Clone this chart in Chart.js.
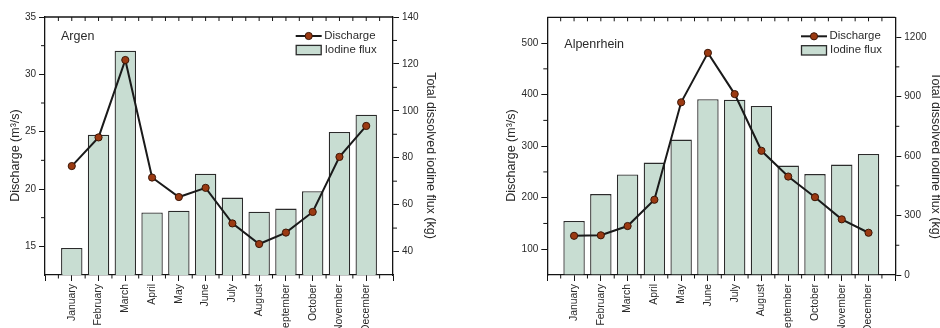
<!DOCTYPE html>
<html>
<head>
<meta charset="utf-8">
<script src="https://cdn.jsdelivr.net/npm/chart.js@4.4.1/dist/chart.umd.min.js"></script>
<style>
  html, body { margin: 0; padding: 0; background: #fff; overflow: hidden; }
  #wrap { display: flex; width: 940px; height: 328px; }
  canvas { display: block; }
</style>
</head>
<body>
<div id="wrap">
  <canvas id="argen" width="470" height="328"></canvas>
  <canvas id="alpen" width="470" height="328"></canvas>
</div>
<script>
// Monthly mean discharge (m³/s) and total dissolved iodine flux (kg)
const months = ['January', 'February', 'March', 'April', 'May', 'June',
                'July', 'August', 'September', 'October', 'November', 'December'];

const argenDischarge = [22.0, 24.5, 31.25, 21.0, 19.3, 20.1, 17.0, 15.2, 16.2, 18.0, 22.8, 25.5];
const argenFlux      = [41.5, 89.8, 125.6, 56.7, 57.4, 73.2, 63.0, 57.0, 58.3, 65.7, 91.0, 98.3];

const alpenDischarge = [126, 127, 145, 196, 385, 481, 401, 291, 241, 201, 158, 132];
const alpenFlux      = [273, 408, 507, 567, 683, 887, 884, 853, 552, 509, 557, 611];

// Axis tick values
const argenDischargeTicks = [15, 20, 25, 30, 35];
const argenDischargeMinor = [17.5, 22.5, 27.5, 32.5];
const argenFluxTicks      = [40, 60, 80, 100, 120, 140];
const argenFluxMinor      = [50, 70, 90, 110, 130];

const alpenDischargeTicks = [100, 200, 300, 400, 500];
const alpenDischargeMinor = [150, 250, 350, 450];
const alpenFluxTicks      = [0, 300, 600, 900, 1200];
const alpenFluxMinor      = [150, 450, 750, 1050];

const FONT = "'Liberation Sans', Arial, Helvetica, sans-serif";
const INK = '#141414';
const TEXT = '#2a2a2a';
const BAR_FILL = '#c8ddd2';
const BAR_EDGE = '#2b2b2b';
const POINT_FILL = '#9b3a12';
const POINT_EDGE = '#3b1606';

Chart.defaults.font.family = FONT;
Chart.defaults.color = TEXT;

// Box frame, minor ticks, legend, panel name and axis titles
const framePlugin = {
  id: 'frame',
  afterDraw(chart, args, o) {
    const { ctx, chartArea: a, scales } = chart;
    const x = scales.x, yl = scales.y, yr = scales.y1;
    ctx.save();

    ctx.strokeStyle = INK;
    ctx.lineWidth = 1.3;
    ctx.beginPath();
    ctx.moveTo(a.left, a.top);
    ctx.lineTo(a.right, a.top);
    ctx.stroke();

    ctx.lineWidth = 1;
    ctx.beginPath();
    const x0 = x.getPixelForValue(0);
    const half = (x.getPixelForValue(1) - x0) / 2;
    const n = (x.getLabels().length - 1) * 2;
    for (let i = 1; i < n; i++) {
      const px = x0 + i * half;
      ctx.moveTo(px, a.top);
      ctx.lineTo(px, a.top + 4);
      if (i % 2) {
        ctx.moveTo(px, a.bottom);
        ctx.lineTo(px, a.bottom + 3.5);
      }
    }
    o.leftMinor.forEach(v => {
      const py = yl.getPixelForValue(v);
      ctx.moveTo(a.left - 4, py);
      ctx.lineTo(a.left, py);
    });
    o.rightMinor.forEach(v => {
      const py = yr.getPixelForValue(v);
      ctx.moveTo(a.right, py);
      ctx.lineTo(a.right + 4, py);
    });
    ctx.stroke();

    // legend
    const lineDs = chart.data.datasets[0];
    const barDs = chart.data.datasets[1];
    const lx = a.right + o.legendDx;
    const ly1 = a.top + 19;
    const ly2 = a.top + 33;
    ctx.strokeStyle = lineDs.borderColor;
    ctx.lineWidth = lineDs.borderWidth;
    ctx.beginPath();
    ctx.moveTo(lx, ly1);
    ctx.lineTo(lx + 26, ly1);
    ctx.stroke();
    ctx.beginPath();
    ctx.arc(lx + 13, ly1, lineDs.pointRadius, 0, Math.PI * 2);
    ctx.fillStyle = lineDs.pointBackgroundColor;
    ctx.fill();
    ctx.lineWidth = lineDs.pointBorderWidth;
    ctx.strokeStyle = lineDs.pointBorderColor;
    ctx.stroke();

    ctx.fillStyle = barDs.backgroundColor;
    ctx.fillRect(lx + 0.5, ly2 - 4.6, 25, 9.3);
    ctx.strokeStyle = barDs.borderColor;
    ctx.lineWidth = barDs.borderWidth;
    ctx.strokeRect(lx + 0.5, ly2 - 4.6, 25, 9.3);

    ctx.fillStyle = TEXT;
    ctx.font = '11.4px ' + FONT;
    ctx.textAlign = 'left';
    ctx.textBaseline = 'middle';
    ctx.fillText(lineDs.label, lx + 28.5, ly1);
    ctx.fillText(barDs.label, lx + 29, ly2);

    // panel name
    ctx.font = '12.5px ' + FONT;
    ctx.fillText(o.name, a.left + o.nameDx, a.top + o.nameDy);

    // axis titles
    ctx.textAlign = 'center';
    ctx.save();
    ctx.translate(o.leftTitleX, o.titleY);
    ctx.rotate(-Math.PI / 2);
    ctx.fillText('Discharge (m\u00B3/s)', 0, 0);
    ctx.restore();
    ctx.save();
    ctx.translate(o.rightTitleX, o.titleY);
    ctx.rotate(Math.PI / 2);
    ctx.fillText('Total dissolved iodine flux (kg)', 0, 0);
    ctx.restore();

    ctx.restore();
  }
};

function yAxis(position, min, max, ticks, width) {
  return {
    type: 'linear',
    position,
    min, max,
    afterBuildTicks(s) { s.ticks = ticks.map(v => ({ value: v })); },
    afterFit(s) { s.width = width; },
    grid: { display: true, drawOnChartArea: false, drawTicks: true, tickLength: 6, color: INK, lineWidth: 1 },
    border: { display: true, color: INK, width: 1.3 },
    ticks: { font: { size: 10 }, color: TEXT, padding: 3, callback: v => String(v) }
  };
}

function makeChart(id, p) {
  const labels = ['', ...months, ''];
  return new Chart(document.getElementById(id), {
    type: 'bar',
    data: {
      labels,
      datasets: [
        {
          type: 'line',
          label: 'Discharge',
          data: [null, ...p.discharge, null],
          yAxisID: 'y',
          borderColor: '#1a1a1a',
          borderWidth: 2,
          pointRadius: 3.6,
          pointBackgroundColor: POINT_FILL,
          pointBorderColor: POINT_EDGE,
          pointBorderWidth: 1,
          tension: 0,
          order: 0
        },
        {
          type: 'bar',
          label: 'Iodine flux',
          data: [null, ...p.flux, null],
          yAxisID: 'y1',
          backgroundColor: BAR_FILL,
          borderColor: BAR_EDGE,
          borderWidth: 1.3,
          barPercentage: 0.8,
          categoryPercentage: 1,
          order: 1
        }
      ]
    },
    options: {
      responsive: false,
      animation: false,
      devicePixelRatio: 1,
      events: [],
      layout: { padding: { top: p.top, left: 0, right: 0, bottom: 0 } },
      plugins: {
        legend: { display: false },
        tooltip: { enabled: false },
        frame: p.frame
      },
      scales: {
        x: {
          type: 'category',
          offset: false,
          grid: { display: true, offset: false, drawOnChartArea: false, drawTicks: true, tickLength: 6, color: INK, lineWidth: 1 },
          border: { display: true, color: INK, width: 1.3 },
          ticks: { autoSkip: false, minRotation: 90, maxRotation: 90, padding: 3, font: { size: 10.4 }, color: TEXT },
          afterFit(s) { s.height = p.xHeight; }
        },
        y: yAxis('left', p.yMin, p.yMax, p.yTicks, p.leftWidth),
        y1: yAxis('right', p.y1Min, p.y1Max, p.y1Ticks, p.rightWidth)
      }
    },
    plugins: [framePlugin]
  });
}

makeChart('argen', {
  discharge: argenDischarge,
  flux: argenFlux,
  yMin: 12.5, yMax: 35, yTicks: argenDischargeTicks,
  y1Min: 30, y1Max: 140, y1Ticks: argenFluxTicks,
  leftWidth: 45, rightWidth: 77, top: 17, xHeight: 53,
  frame: {
    leftMinor: argenDischargeMinor, rightMinor: argenFluxMinor,
    legendDx: -97.3, name: 'Argen', nameDx: 16, nameDy: 19.7,
    leftTitleX: 15.5, rightTitleX: 430.5, titleY: 155.5
  }
});

makeChart('alpen', {
  discharge: alpenDischarge,
  flux: alpenFlux,
  yMin: 50, yMax: 550, yTicks: alpenDischargeTicks,
  y1Min: 0, y1Max: 1300, y1Ticks: alpenFluxTicks,
  leftWidth: 77.3, rightWidth: 44.7, top: 17.3, xHeight: 53,
  frame: {
    leftMinor: alpenDischargeMinor, rightMinor: alpenFluxMinor,
    legendDx: -94.3, name: 'Alpenrhein', nameDx: 17, nameDy: 27.7,
    leftTitleX: 41.5, rightTitleX: 465.7, titleY: 155.5
  }
});
</script>
</body>
</html>
